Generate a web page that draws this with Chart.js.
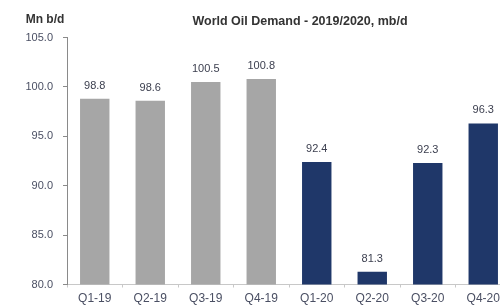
<!DOCTYPE html>
<html>
<head>
<meta charset="utf-8">
<script src="https://cdn.jsdelivr.net/npm/chart.js@4"></script>
<style>
  html, body { margin: 0; padding: 0; background: #fff; overflow: hidden; }
  #wrap { width: 511px; height: 307px; }
</style>
</head>
<body>
<div id="wrap"><canvas id="oilDemandChart" width="511" height="307"></canvas></div>
<script>
const quarters = ['Q1-19', 'Q2-19', 'Q3-19', 'Q4-19', 'Q1-20', 'Q2-20', 'Q3-20', 'Q4-20'];
const demand = [98.8, 98.6, 100.5, 100.8, 92.4, 81.3, 92.3, 96.3];
const barColors = ['#a6a6a6', '#a6a6a6', '#a6a6a6', '#a6a6a6', '#1f3769', '#1f3769', '#1f3769', '#1f3769'];
const yTicks = [80, 85, 90, 95, 100, 105];

const chartTitle = 'World Oil Demand - 2019/2020, mb/d';
const unitLabel = 'Mn b/d';
const fontFamily = '"Liberation Sans", Arial, sans-serif';

// title, unit label and values above the bars
const textPlugin = {
    id: 'textPlugin',
    afterDatasetsDraw(chart) {
        const c = chart.ctx;
        c.save();
        c.fillStyle = '#333';
        c.textAlign = 'center';
        c.textBaseline = 'middle';
        c.font = 'bold 12.5px ' + fontFamily;
        c.fillText(chartTitle, 300, 22);
        c.font = 'bold 12px ' + fontFamily;
        c.fillText(unitLabel, 45, 20);

        c.font = '11px ' + fontFamily;
        c.fillStyle = '#3d4050';
        chart.getDatasetMeta(0).data.forEach((bar, i) => {
            c.fillText(demand[i].toFixed(1), bar.x, bar.y - 13);
        });
        c.restore();
    }
};

new Chart(document.getElementById('oilDemandChart').getContext('2d'), {
    type: 'bar',
    data: {
        labels: quarters,
        datasets: [{
            data: demand,
            backgroundColor: barColors,
            categoryPercentage: 1,
            barPercentage: 0.53
        }]
    },
    options: {
        responsive: false,
        animation: false,
        devicePixelRatio: 1,
        layout: { padding: { top: 37.5, left: 0, right: 0, bottom: 0 } },
        plugins: {
            legend: { display: false },
            tooltip: { enabled: false }
        },
        scales: {
            x: {
                grid: {
                    offset: true,
                    drawOnChartArea: false,
                    tickLength: 3,
                    color: '#c8c8c8'
                },
                border: { color: '#c8c8c8' },
                ticks: {
                    color: '#4a4f63',
                    padding: 4,
                    maxRotation: 0,
                    autoSkip: false,
                    font: { size: 12, family: fontFamily }
                },
                afterFit: s => { s.height = 22.5; }
            },
            y: {
                min: 80,
                max: 105,
                afterBuildTicks: s => { s.ticks = yTicks.map(v => ({ value: v })); },
                grid: {
                    drawOnChartArea: false,
                    tickLength: 4,
                    color: '#8a8a8a'
                },
                border: { color: '#8a8a8a' },
                ticks: {
                    color: '#4a4f63',
                    padding: 10,
                    callback: v => v.toFixed(1),
                    font: { size: 11, family: fontFamily }
                },
                afterFit: s => { s.width = 67; }
            }
        }
    },
    plugins: [textPlugin]
});
</script>
</body>
</html>
